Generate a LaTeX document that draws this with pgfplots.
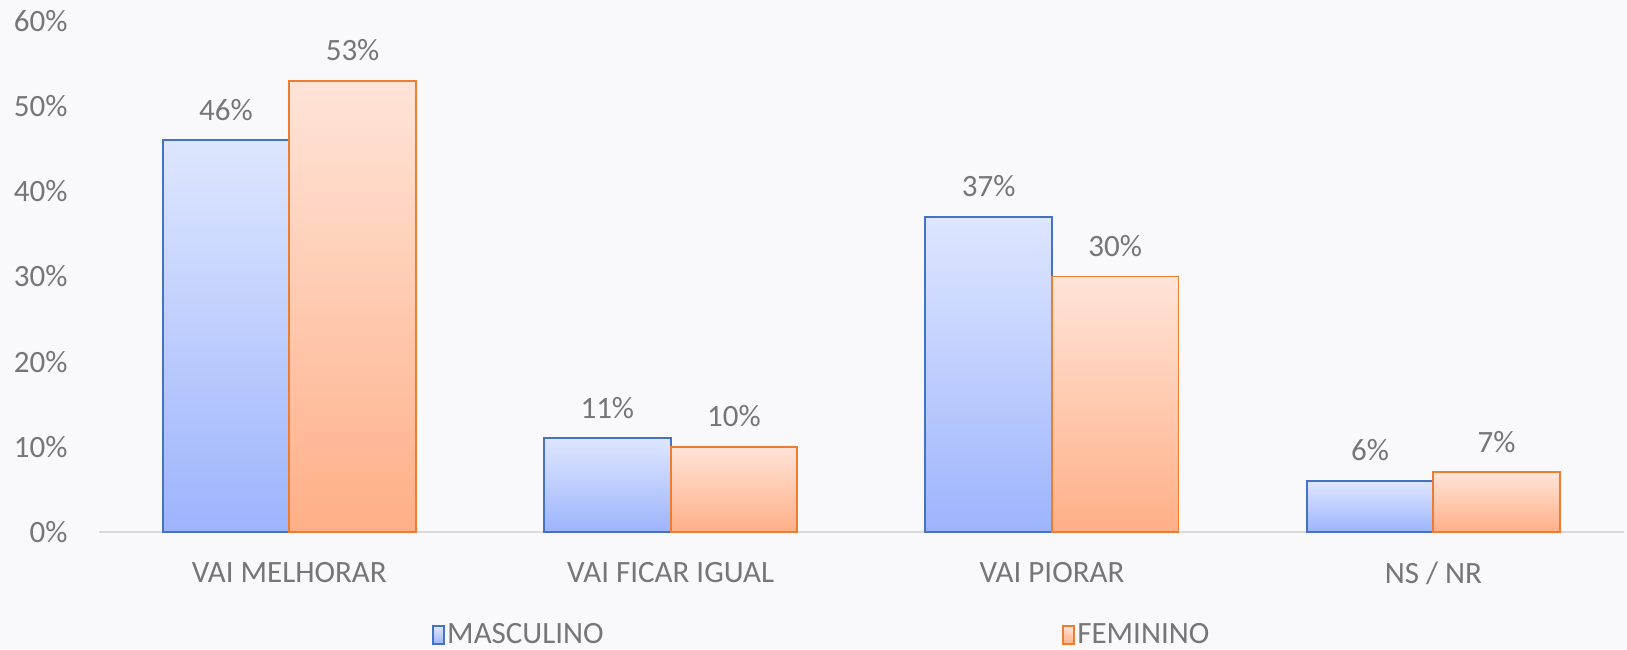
\documentclass[border=0pt]{standalone}
\usepackage{pgfplots}
\pgfplotsset{compat=1.18}
\usepackage{fontspec}
\setmainfont{Carlito}
\definecolor{txt}{HTML}{767676}
\definecolor{bgc}{HTML}{F9F9FB}
\definecolor{axgray}{HTML}{D9D9D9}
\definecolor{blueline}{HTML}{4472C4}
\definecolor{bluetop}{HTML}{DEE6FE}
\definecolor{bluebot}{HTML}{9DB4FD}
\definecolor{orline}{HTML}{ED7D31}
\definecolor{ortop}{HTML}{FFE4D8}
\definecolor{orbot}{HTML}{FFAF87}
\pgfplotsset{
  mbar/.style={draw=blueline, line width=0.9pt, top color=bluetop, bottom color=bluebot, bar shift=-31.65pt},
  fbar/.style={draw=orline, line width=0.9pt, top color=ortop, bottom color=orbot, bar shift=31.65pt},
}
\begin{document}
\begin{tikzpicture}
\fill[bgc] (-49.3pt,-58.5pt) rectangle (764.2pt,266pt);
\path[use as bounding box] (-49.3pt,-58.5pt) rectangle (764.2pt,266pt);
\begin{axis}[
  at={(0,0)}, anchor=south west,
  scale only axis, width=762.7pt, height=255.5pt,
  xmin=-0.5, xmax=3.5, ymin=0, ymax=60,
  ytick={0,10,...,60},
  yticklabel={\pgfmathprintnumber{\tick}\%},
  xtick={0,1,2,3},
  xticklabels={VAI MELHORAR, VAI FICAR IGUAL, VAI PIORAR, NS / NR},
  ybar=0pt, bar width=63.3pt,
  axis lines*=left,
  y axis line style={draw=none},
  x axis line style={draw=axgray, line width=0.75pt},
  major tick length=0pt,
  /pgf/number format/assume math mode=true,
  tick label style={font=\fontsize{15.5}{18}\selectfont, text=txt},
  yticklabel style={xshift=-12pt},
  xticklabel style={yshift=-11.5pt},
  nodes near coords={\pgfmathprintnumber{\pgfplotspointmeta}\%},
  every node near coord/.append style={font=\fontsize{15.5}{18}\selectfont, text=txt, anchor=base, yshift=10pt},
  legend style={at={(0.2144,-0.2018)}, anchor=west, draw=none, fill=none,
    font=\fontsize{15.5}{18}\selectfont, text=txt, legend columns=2,
    /tikz/every odd column/.append style={column sep=0pt},
    /tikz/every even column/.append style={column sep=228pt}},
  legend image code/.code={\draw[#1] (0pt,-4.5pt) rectangle (5.5pt,4.5pt);},
  legend style={nodes={inner xsep=1.2pt}},
]
\addplot[mbar] coordinates {(0,46)};
\addlegendentry{MASCULINO}
\addplot[fbar] coordinates {(0,53)};
\addlegendentry{FEMININO}
\addplot[mbar, forget plot] coordinates {(1,11)};
\addplot[mbar, forget plot] coordinates {(2,37)};
\addplot[mbar, forget plot] coordinates {(3,6)};
\addplot[fbar, forget plot] coordinates {(1,10)};
\addplot[fbar, forget plot] coordinates {(2,30)};
\addplot[fbar, forget plot] coordinates {(3,7)};
\end{axis}
\end{tikzpicture}
\end{document}
